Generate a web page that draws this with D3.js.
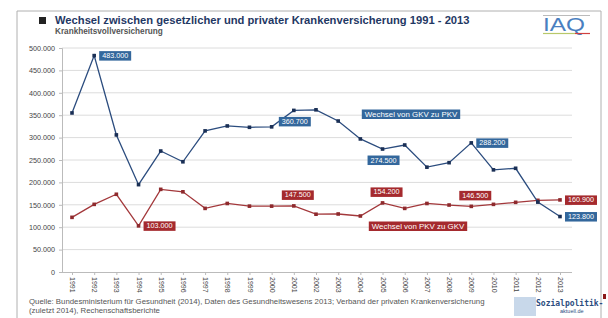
<!DOCTYPE html>
<html><head><meta charset="utf-8">
<script src="https://cdn.jsdelivr.net/npm/d3@7"></script>
<style>body{margin:0;background:#fff}svg{display:block;font-family:"Liberation Sans",Arial,sans-serif}</style>
</head><body><svg id="c" width="608" height="318"></svg>
<script>
const years = d3.range(1991, 2014).map(String);
const gkvToPkv = [355000,483000,306000,195000,270000,246000,315000,326000,323000,324000,360700,362000,337000,297000,274500,283500,234000,244000,288200,228000,231500,156000,123800];
const pkvToGkv = [122000,151000,173500,103000,184500,179000,142000,153000,147000,147000,147500,129000,129500,125000,154200,142000,153000,149500,146500,151000,155500,160000,160900];
const yTicks = [0,50000,100000,150000,200000,250000,300000,350000,400000,450000,500000];
const seriesNames = ["Wechsel von GKV zu PKV","Wechsel von PKV zu GKV"];
const blueLabels = [{year:"1992",pos:"right"},{year:"2001",pos:"below"},{year:"2005",pos:"below"},{year:"2009",pos:"right"},{year:"2013",pos:"right"}];
const redLabels = [{year:"1994",pos:"right"},{year:"2001",pos:"above"},{year:"2005",pos:"above"},{year:"2009",pos:"above"},{year:"2013",pos:"right"}];
const title = "Wechsel zwischen gesetzlicher und privater Krankenversicherung 1991 - 2013";
const subtitle = "Krankheitsvollversicherung";
const source1 = "Quelle: Bundesministerium für Gesundheit (2014), Daten des Gesundheitswesens 2013; Verband der privaten Krankenversicherung";
const source2 = "(zuletzt 2014), Rechenschaftsberichte";

const svg = d3.select("#c");
const fmt = v => v === 0 ? "0" : d3.format(",")(v).replace(/,/g, ".");
const x = d3.scalePoint().domain(years).range([72, 560]);
const y = d3.scaleLinear().domain([0, 500000]).range([272, 48]);
const blue = "#2b4c7e", blueBox = "#33679c", red = "#a3383b", redBox = "#a52a2e";

// frame
svg.append("path").attr("d","M17,318 V11 H601 V318").attr("fill","none").attr("stroke","#b0b0b0").attr("stroke-width",1);
svg.append("rect").attr("x",603).attr("y",294).attr("width",3).attr("height",5).attr("fill","#8b1a1a");

// title
svg.append("rect").attr("x",39).attr("y",17).attr("width",7).attr("height",7).attr("fill","#222");
svg.append("text").attr("x",55).attr("y",24).text(title).attr("font-size",11.2).attr("font-weight","bold").attr("fill","#1f3864");
svg.append("text").attr("x",55).attr("y",34).text(subtitle).attr("font-size",8.2).attr("font-weight","bold").attr("fill","#555");
// IAQ logo
svg.append("line").attr("x1",543).attr("x2",590).attr("y1",15.5).attr("y2",15.5).attr("stroke","#aaa").attr("stroke-width",0.8);
svg.append("text").attr("x",543).attr("y",31).text("IAQ").attr("font-size",18.5).attr("fill","#4a7fc0").attr("textLength",42).attr("lengthAdjust","spacingAndGlyphs");
svg.append("line").attr("x1",543).attr("x2",575).attr("y1",33.5).attr("y2",33.5).attr("stroke","#b8c86a").attr("stroke-width",1.2);
svg.append("line").attr("x1",575).attr("x2",590).attr("y1",33.5).attr("y2",33.5).attr("stroke","#d04040").attr("stroke-width",1.2);

// grid
svg.append("g").selectAll("line").data(yTicks.filter(d=>d>0)).join("line")
  .attr("x1",62).attr("x2",572).attr("y1",d=>y(d)).attr("y2",d=>y(d)).attr("stroke","#dcdcdc").attr("stroke-width",1);

// y axis
const ya = svg.append("g").attr("transform","translate(62,0)").call(d3.axisLeft(y).tickValues(yTicks).tickFormat(fmt).tickSize(3));
ya.select(".domain").attr("stroke","#bbb");
ya.selectAll(".tick line").attr("stroke","#bbb");
ya.selectAll("text").attr("font-size",7.2).attr("fill","#444").attr("font-family","Liberation Sans, Arial").attr("x",-7);

// x axis
const xa = svg.append("g").attr("transform","translate(0,272)").call(d3.axisBottom(x).tickSize(3));
xa.select(".domain").attr("d","M62,0.5H572").attr("stroke","#bbb");
xa.selectAll(".tick line").attr("stroke","#bbb");
xa.selectAll("text").attr("font-size",7).attr("fill","#444").attr("font-family","Liberation Sans, Arial")
  .attr("transform","rotate(90)").attr("x",5).attr("y",0).attr("dy","0.35em").attr("text-anchor","start");

function drawSeries(vals, color, mcolor){
  const pts = years.map((yr,i)=>({yr, v: vals[i]}));
  svg.append("path").datum(pts).attr("fill","none").attr("stroke",color).attr("stroke-width",1.3)
    .attr("d", d3.line().x(d=>x(d.yr)).y(d=>y(d.v)));
  svg.append("g").selectAll("rect").data(pts).join("rect")
    .attr("x",d=>x(d.yr)-1.8).attr("y",d=>y(d.v)-1.8).attr("width",3.6).attr("height",3.6).attr("fill",mcolor);
}
drawSeries(pkvToGkv, red, "#8e2a2d");
drawSeries(gkvToPkv, blue, "#1a2f55");

function box(cx, cy, text, fill, anchor, fs){
  const g = svg.append("g");
  const t = g.append("text").text(text).attr("font-size",fs||7.2).attr("fill","#fff").attr("y",cy).attr("dy","0.35em");
  const w = t.node().getComputedTextLength() + 6;
  let left = anchor==="start" ? cx : cx - w/2;
  t.attr("x", left + 3);
  g.insert("rect","text").attr("x",left).attr("y",cy-4.5).attr("width",w).attr("height",9.5).attr("fill",fill);
}
function dataLabels(list, vals, fill){
  list.forEach(l=>{
    const i = years.indexOf(l.year), px = x(l.year), py = y(vals[i]);
    if(l.pos==="right") box(px+5, py, fmt(vals[i]), fill, "start");
    else if(l.pos==="below") box(px+1, py+11, fmt(vals[i]), fill, "middle");
    else box(px+4, py-11, fmt(vals[i]), fill, "middle");
  });
}
dataLabels(blueLabels, gkvToPkv, blueBox);
dataLabels(redLabels, pkvToGkv, redBox);
// series name labels
box(411, 114, seriesNames[0], blueBox, "middle", 7.9);
box(418, 226, seriesNames[1], redBox, "middle", 7.9);

// source
svg.append("text").attr("x",29).attr("y",304).text(source1).attr("font-size",7.8).attr("fill","#555");
svg.append("text").attr("x",29).attr("y",313).text(source2).attr("font-size",7.8).attr("fill","#555");
// sozialpolitik logo
svg.append("rect").attr("x",514).attr("y",297).attr("width",22).attr("height",19).attr("fill","#c8d8ea");
svg.append("text").attr("x",536).attr("y",306).text("Sozialpolitik-").attr("font-size",8).attr("font-weight","bold").attr("fill","#2b4c7e").attr("font-family","DejaVu Sans Mono, monospace");
svg.append("text").attr("x",560).attr("y",313).text("aktuell.de").attr("font-size",5.5).attr("fill","#2b4c7e");
</script></body></html>
